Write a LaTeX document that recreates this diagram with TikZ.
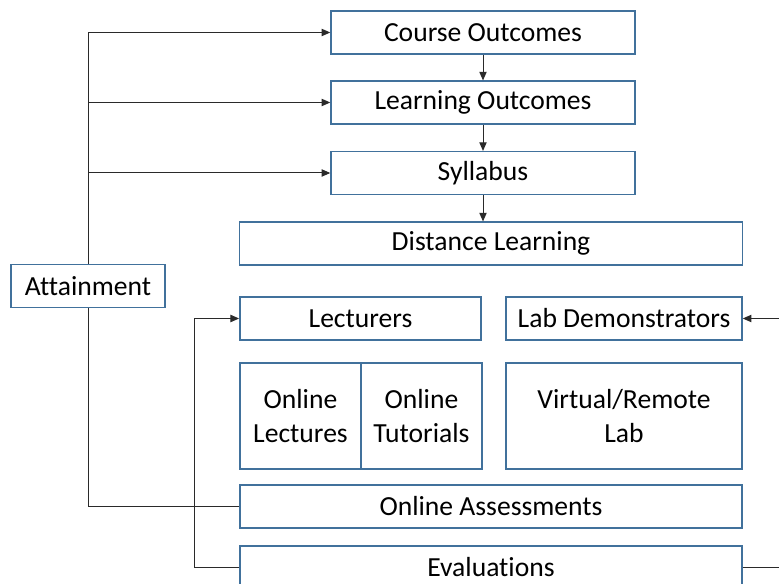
\documentclass[tikz,border=0pt]{standalone}
\usepackage{fontspec}
\setmainfont{Carlito}[Ligatures=NoCommon]
\usetikzlibrary{arrows.meta,positioning}
\definecolor{boxblue}{HTML}{41719C}
\definecolor{wire}{HTML}{2A2A2A}

\begin{document}
\begin{tikzpicture}[x=0.75pt,y=-0.75pt,font=\fontsize{20.7}{25}\selectfont,
  box/.style={draw=boxblue,line width=1.1pt,inner sep=2pt,align=center,minimum height=32pt},
  link/.style={draw=wire,line width=0.75pt},
  tip/.style={link,-{Triangle[length=6.5pt,width=5.5pt]}}]
\useasboundingbox (0,0) rectangle (779,584);
\clip (0,0) rectangle (779,584);
% course design chain
\foreach \n/\y/\lab in {co/32.5/Course Outcomes,lo/102.5/Learning Outcomes,syl/173/Syllabus}
  \node[box,minimum width=228pt] (\n) at (483,\y) {\lab};
\node[box,minimum width=377pt] (dl) at (491,243.5) {Distance Learning};
\node[box,minimum width=115.5pt] (att) at (88,286) {Attainment};
% delivery
\node[box,minimum width=181pt] (lec) at (360.5,318.5) {Lecturers};
\node[box,minimum width=177pt] (lab) at (624,318.5) {Lab Demonstrators};
\node[box,minimum width=90.75pt,minimum height=79.5pt] (olec) at (300.5,416) {Online\\Lectures};
\node[box,minimum width=90.75pt,minimum height=79.5pt] (otut) at (421.5,416) {Online\\Tutorials};
\node[box,minimum width=177pt,minimum height=79.5pt] (vlab) at (624,416) {Virtual/Remote\\Lab};
\node[box,minimum width=376.5pt] (oa) at (491,506.5) {Online Assessments};
\node[box,minimum width=376.5pt] (ev) at (491,567.5) {Evaluations};
\coordinate (rin) at (779,318.5);
\coordinate (rout) at (779,567.5);

\draw[tip] (co) -- (lo);
\draw[tip] (lo) -- (syl);
\draw[tip] (syl.south) -- (syl.south |- dl.north);
\draw[link] (att.north) -- (att.north |- co.west);
\foreach \n in {co,lo,syl}
  \draw[tip] (att.north |- \n.west) -- (\n.west);
\draw[link] (att.south) |- (oa.west);
\draw[tip] (ev.west) -- ++(-45,0) |- (lec.west);
\draw[link] (ev.east) -- (rout);
\draw[tip] (rin) -- (lab.east);
\end{tikzpicture}
\end{document}
